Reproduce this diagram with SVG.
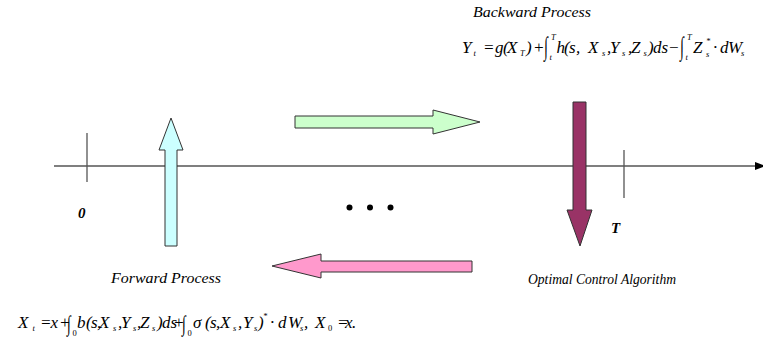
<svg xmlns="http://www.w3.org/2000/svg" width="763" height="339" viewBox="0 0 763 339">
<style>
.lbl{font-family:'Liberation Serif','Times New Roman',serif;font-style:italic;font-size:15px;fill:#000}
.m{font-family:'Liberation Serif','Times New Roman',serif;font-style:italic;font-size:17px;fill:#000}
.sb{font-size:8.5px}
.ig{font-family:'Liberation Serif','Times New Roman',serif;font-style:normal;font-size:17px;fill:#000}
.tick{stroke:#555;stroke-width:1.3}
.arr{stroke:#333;stroke-width:1}
</style>
<defs>
<marker id="ah" markerWidth="12" markerHeight="10" refX="0" refY="4" orient="auto" markerUnits="userSpaceOnUse">
<path d="M0,0 L11,4 L0,8 Z" fill="#000"/>
</marker>
</defs>
<g id="connectors">
<line id="axis" x1="54" y1="166" x2="755" y2="166" stroke="#000" stroke-width="1.2" marker-end="url(#ah)"/>
<line class="tick" x1="87" y1="133" x2="87" y2="182"/>
<line class="tick" x1="624" y1="150" x2="624" y2="198"/>
</g>
<g id="forward-arrow">
<polygon class="arr" fill="#CCFFFF" points="165,246 177,246 177,150 183,150 171,118 159,150 165,150"/>
</g>
<g id="right-arrow">
<polygon class="arr" fill="#CCFFCC" points="295,116 433,116 433,110 480,122 433,134 433,128 295,128"/>
</g>
<g id="left-arrow">
<polygon class="arr" fill="#FF99CC" points="472,261 321,261 321,254 272,266 321,278 321,272 472,272"/>
</g>
<g id="control-arrow">
<polygon class="arr" fill="#993366" points="573,102 586,102 586,210 592,210 580,246 567,210 573,210"/>
</g>
<g id="dots" fill="#000">
<circle cx="349.5" cy="207.5" r="3"/>
<circle cx="370" cy="207.5" r="3"/>
<circle cx="390.5" cy="207.5" r="3"/>
</g>
<g id="labels">
<text class="lbl" x="473" y="17" textLength="118" lengthAdjust="spacingAndGlyphs">Backward Process</text>
<text class="lbl" x="111" y="283" textLength="110" lengthAdjust="spacingAndGlyphs">Forward Process</text>
<text class="lbl" x="528" y="284" textLength="148" lengthAdjust="spacingAndGlyphs">Optimal Control Algorithm</text>
<text class="lbl" x="78" y="218" font-weight="bold">0</text>
<text class="lbl" x="611" y="233" font-weight="bold">T</text>
</g>
<g id="backward-formula">
<text class="m"><tspan x="462" y="53">Y</tspan><tspan class="sb" x="473.5" y="56">t</tspan><tspan x="483" y="53">=</tspan><tspan x="495" y="53">g</tspan><tspan x="503" y="53">(</tspan><tspan x="507" y="53">X</tspan><tspan class="sb" x="520" y="56">T</tspan><tspan x="526" y="53">)</tspan><tspan x="533" y="53">+</tspan><tspan class="sb" x="551" y="40">T</tspan><tspan class="sb" x="549.5" y="60">t</tspan><tspan x="556.5" y="53">h</tspan><tspan x="564" y="53">(</tspan><tspan x="569" y="53">s</tspan><tspan x="576" y="53">,</tspan><tspan x="588" y="53">X</tspan><tspan class="sb" x="602" y="56">s</tspan><tspan x="607" y="53">,</tspan><tspan x="610" y="53">Y</tspan><tspan class="sb" x="622" y="56">s</tspan><tspan x="628" y="53">,</tspan><tspan x="631" y="53">Z</tspan><tspan class="sb" x="643.5" y="56">s</tspan><tspan x="648" y="53">)</tspan><tspan x="653" y="53">ds</tspan><tspan x="668" y="53">−</tspan><tspan class="sb" x="687" y="40">T</tspan><tspan class="sb" x="685.5" y="60">t</tspan><tspan x="693" y="53">Z</tspan><tspan class="sb" x="706" y="44">*</tspan><tspan class="sb" x="706" y="57">s</tspan><tspan x="713" y="53">·</tspan><tspan x="720" y="53">d</tspan><tspan x="728" y="53">W</tspan><tspan class="sb" x="741" y="56">s</tspan></text>
<text class="ig" transform="translate(544,55) scale(0.8,1.55)">∫</text>
<text class="ig" transform="translate(680,55) scale(0.8,1.55)">∫</text>
</g>
<g id="forward-formula">
<text class="m"><tspan x="18" y="328">X</tspan><tspan class="sb" x="32.5" y="331">t</tspan><tspan x="40" y="328">=</tspan><tspan x="50.5" y="328">x</tspan><tspan x="59" y="328">+</tspan><tspan class="sb" x="72.5" y="336" font-style="normal">0</tspan><tspan x="77" y="328">b</tspan><tspan x="86" y="328">(</tspan><tspan x="91" y="328">s</tspan><tspan x="97" y="328">,</tspan><tspan x="99" y="328">X</tspan><tspan class="sb" x="113" y="331">s</tspan><tspan x="118" y="328">,</tspan><tspan x="121" y="328">Y</tspan><tspan class="sb" x="133" y="331">s</tspan><tspan x="137" y="328">,</tspan><tspan x="140" y="328">Z</tspan><tspan class="sb" x="152" y="331">s</tspan><tspan x="157" y="328">)</tspan><tspan x="162" y="328">ds</tspan><tspan x="173" y="328">+</tspan><tspan class="sb" x="187.5" y="336" font-style="normal">0</tspan><tspan x="193" y="328">σ</tspan><tspan x="205" y="328">(</tspan><tspan x="210" y="328">s</tspan><tspan x="216" y="328">,</tspan><tspan x="220" y="328">X</tspan><tspan class="sb" x="233" y="331">s</tspan><tspan x="238" y="328">,</tspan><tspan x="243" y="328">Y</tspan><tspan class="sb" x="254" y="331">s</tspan><tspan x="258" y="328">)</tspan><tspan class="sb" x="263" y="319">*</tspan><tspan x="270" y="328">·</tspan><tspan x="278" y="328">d</tspan><tspan x="288" y="328">W</tspan><tspan class="sb" x="300" y="331">s</tspan><tspan x="304" y="328">,</tspan><tspan x="315" y="328">X</tspan><tspan class="sb" x="328" y="331" font-style="normal">0</tspan><tspan x="337" y="328">=</tspan><tspan x="345" y="328">x</tspan><tspan x="352" y="328">.</tspan></text>
<text class="ig" transform="translate(67,331) scale(0.8,1.3)">∫</text>
<text class="ig" transform="translate(182,331) scale(0.8,1.3)">∫</text>
</g>
</svg>
